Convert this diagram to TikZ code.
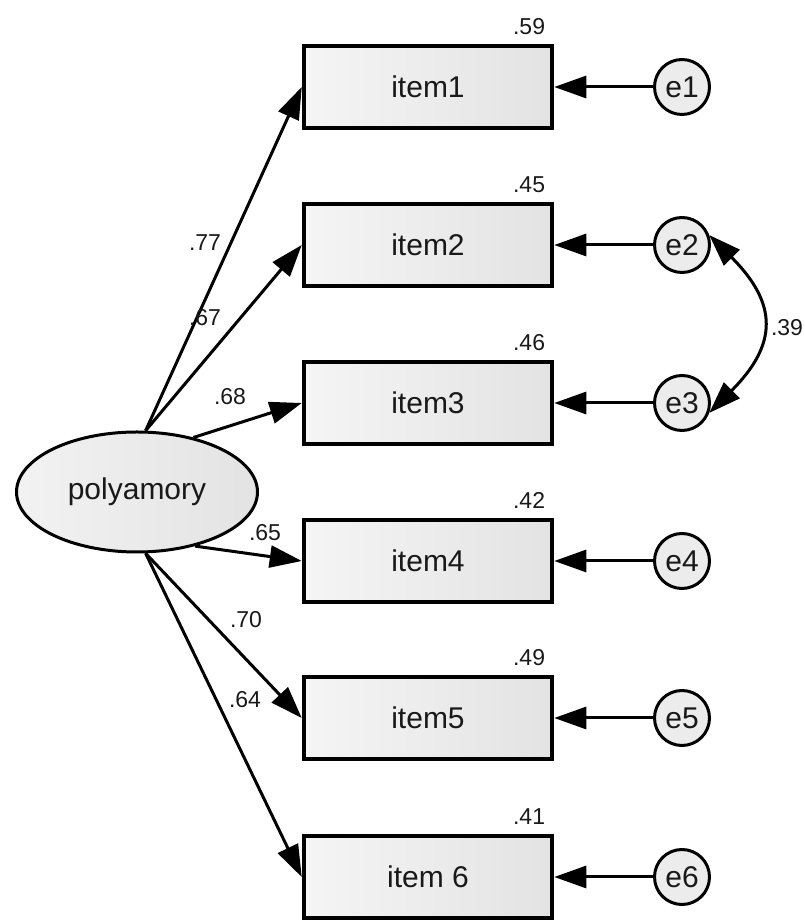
\documentclass[tikz,border=0pt]{standalone}
\usepackage{fontspec}
\setmainfont{Liberation Sans}
\usetikzlibrary{arrows.meta}
\usetikzlibrary{shapes.geometric}

\tikzset{
  itembox/.style={draw, line width=4.5pt, minimum width=248pt, minimum height=82pt,
    left color=gray!8, right color=gray!22, text=black!90,
    font=\fontsize{30}{34}\selectfont},
  errnode/.style={circle, draw, line width=3pt, minimum size=55pt, inner sep=0pt,
    fill=gray!15, text=black!90, font=\fontsize{30}{34}\selectfont},
  latent/.style={ellipse, draw, line width=3pt, minimum width=241pt, minimum height=120pt,
    left color=gray!10, right color=gray!22, text=black!90,
    font=\fontsize{30}{34}\selectfont},
  loading/.style={line width=3pt, -{Triangle[length=32pt,width=22pt]}},
  coef/.style={font=\fontsize{23}{26}\selectfont, text=black!90, inner sep=1pt}
}

\begin{document}
\begin{tikzpicture}[x=1pt,y=1pt]
\useasboundingbox (0,0) rectangle (804,921);
\node[latent] (poly) at (137,429) {polyamory};
% items and their errors
\foreach \n/\y/\lab in {1/834/item1, 2/676/item2, 3/518/item3, 4/360/item4, 5/203/item5, 6/44/item 6} {
  \node[itembox] (i\n) at (428,\y) {\lab};
  \node[errnode] (e\n) at (682,\y) {e\n};
  \draw[loading] (e\n) -- (i\n);
}
% squared multiple correlations
\foreach \n/\r in {1/.59, 2/.45, 3/.46, 4/.42, 5/.49, 6/.41} {
  \node[coef, anchor=south east] (r\n) at ([xshift=-8pt, yshift=8pt]i\n.north east) {\r};
}
% loadings
\foreach \n/\a in {1/82, 2/82, 3/44, 4/-43, 5/-82, 6/-82} {
  \draw[loading] (poly.\a) -- (i\n.west);
}
\node[coef] (l1) at (205,678) {.77};
\node[coef] (l2) at (205,603) {.67};
\node[coef] (l3) at (230,524) {.68};
\node[coef] (l4) at (265,388) {.65};
\node[coef] (l5) at (246,301) {.70};
\node[coef] (l6) at (245,221) {.64};
% covariance e2 - e3
\draw[line width=3pt, {Triangle[length=32pt,width=22pt]}-{Triangle[length=32pt,width=22pt]}]
  (e2.20) to[out=-45, in=45, looseness=1.4] (e3.-20);
\node[coef] (c23) at (787,593) {.39};
\end{tikzpicture}
\end{document}
